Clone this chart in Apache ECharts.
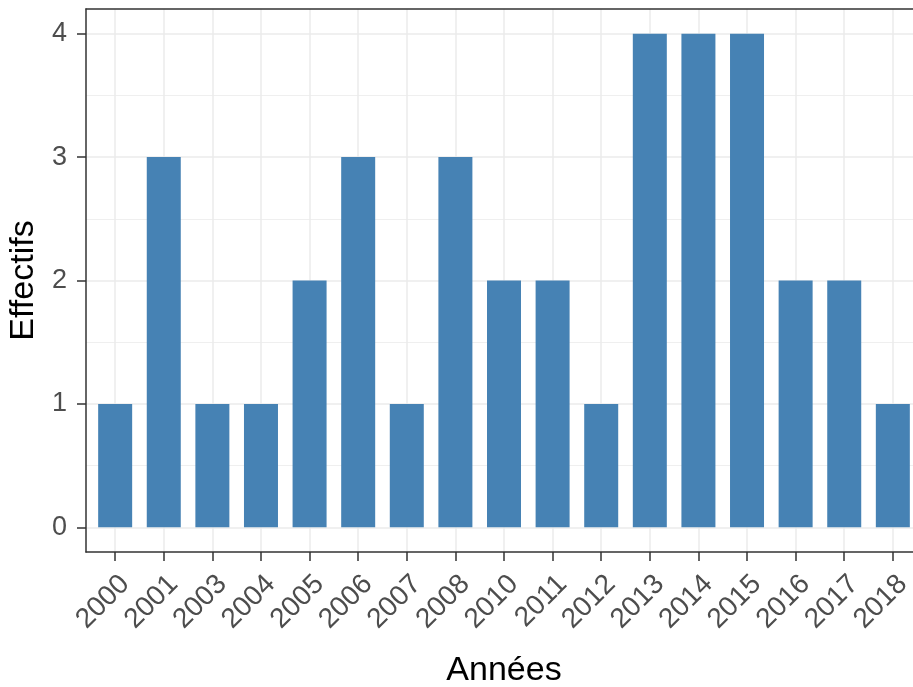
<!DOCTYPE html>
<html>
<head>
<meta charset="utf-8">
<script src="https://cdn.jsdelivr.net/npm/echarts@6/dist/echarts.min.js"></script>
<style>html,body{margin:0;padding:0;background:#fff}#c{width:913px;height:687px}</style>
</head>
<body>
<div id="c"></div>
<script>
const categories = ['2000','2001','2003','2004','2005','2006','2007','2008','2010','2011','2012','2013','2014','2015','2016','2017','2018'];
const values = [1,3,1,1,2,3,1,3,2,2,1,4,4,4,2,2,1];
const yTicks = [0,1,2,3,4];
const yMinor = [0.5,1.5,2.5,3.5];
const xTitle = 'Années';
const yTitle = 'Effectifs';

const FONT = "'Liberation Sans', Arial, Helvetica, sans-serif";
const xIdx = categories.map((c, i) => i);
const chart = echarts.init(document.getElementById('c'));
const borderLine = { show: true, onZero: false, lineStyle: { color: '#333333', width: 1.5 } };
const markData = [
  ...yMinor.map(v => ({ yAxis: v, lineStyle: { color: '#EBEBEB', width: 0.8, type: 'solid' } })),
  ...yTicks.map(v => ({ yAxis: v, lineStyle: { color: '#EBEBEB', width: 1.5, type: 'solid' } })),
  ...xIdx.map(v => ({ xAxis: v, lineStyle: { color: '#EBEBEB', width: 1.5, type: 'solid' } }))
];
chart.setOption({
  animation: false,
  grid: { left: 86, top: 9, width: 836, height: 543, show: false, outerBoundsMode: 'none', containLabel: false },
  xAxis: [{
    type: 'value', min: -0.6, max: 16.6, z: 10,
    axisLine: borderLine,
    axisTick: { show: true, length: 9, customValues: xIdx, lineStyle: { color: '#333333', width: 1.5 } },
    axisLabel: {
      customValues: xIdx, rotate: 45, align: 'right', verticalAlign: 'top', margin: 18,
      color: '#4D4D4D', fontSize: 28, fontFamily: FONT,
      formatter: v => categories[Math.round(v)]
    },
    splitLine: { show: false },
    name: xTitle, nameLocation: 'middle', nameGap: 102,
    nameTextStyle: { color: '#000', fontSize: 34, fontFamily: FONT }
  }, {
    type: 'value', min: -0.6, max: 16.6, position: 'top', z: 10,
    axisLine: borderLine, axisTick: { show: false }, axisLabel: { show: false }, splitLine: { show: false }
  }],
  yAxis: [{
    type: 'value', min: -0.2, max: 4.2, z: 10,
    axisLine: borderLine,
    axisTick: { show: true, length: 9, customValues: yTicks, lineStyle: { color: '#333333', width: 1.5 } },
    axisLabel: { customValues: yTicks, margin: 19, color: '#4D4D4D', fontSize: 27, fontFamily: FONT },
    splitLine: { show: false },
    name: yTitle, nameLocation: 'middle', nameGap: 37,
    nameTextStyle: { color: '#000', fontSize: 34, fontFamily: FONT }
  }, {
    type: 'value', min: -0.2, max: 4.2, position: 'right', z: 10,
    axisLine: borderLine, axisTick: { show: false }, axisLabel: { show: false }, splitLine: { show: false }
  }],
  series: [{
    type: 'bar',
    data: xIdx.map(i => [i, values[i]]),
    barWidth: 34,
    itemStyle: { color: '#4682B4' },
    z: 2,
    markLine: { silent: true, symbol: 'none', z: 1, label: { show: false }, animation: false, data: markData }
  }]
});
</script>
</body>
</html>
